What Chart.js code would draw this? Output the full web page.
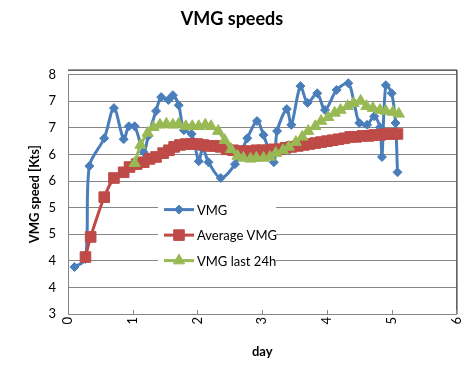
<!DOCTYPE html>
<html>
<head>
<meta charset="utf-8">
<title>VMG speeds</title>
<script src="https://cdn.jsdelivr.net/npm/chart.js@4/dist/chart.umd.min.js"></script>
<style>
    html, body { margin: 0; padding: 0; background: #fff; }
</style>
</head>
<body>
<canvas id="vmgChart" width="475" height="365"></canvas>
<script>
// VMG (raw)
const vmgDays = [0.10, 0.27, 0.33, 0.56, 0.71, 0.86, 0.94, 1.03, 1.17, 1.24, 1.36, 1.44, 1.55, 1.62, 1.71, 1.79, 1.91, 2.02, 2.08, 2.17, 2.36, 2.58, 2.77, 2.92, 3.02, 3.18, 3.23, 3.38, 3.45, 3.59, 3.70, 3.85, 3.97, 4.15, 4.33, 4.42, 4.50, 4.62, 4.73, 4.82, 4.85, 4.91, 5.00, 5.06, 5.09];
const vmgSpeed = [3.98, 4.15, 6.09, 6.67, 7.30, 6.65, 6.92, 6.92, 6.38, 6.72, 7.24, 7.53, 7.47, 7.57, 7.36, 6.84, 6.76, 6.19, 6.47, 6.17, 5.84, 6.13, 6.67, 7.03, 6.74, 6.17, 6.82, 7.28, 6.95, 7.76, 7.41, 7.61, 7.26, 7.68, 7.82, 7.41, 6.99, 6.95, 7.13, 6.90, 6.28, 7.78, 7.61, 6.99, 5.96];

// Average VMG
const avgDays = [0.27, 0.35, 0.56, 0.71, 0.86, 0.95, 1.06, 1.17, 1.26, 1.36, 1.47, 1.56, 1.64, 1.73, 1.82, 1.91, 2.00, 2.09, 2.18, 2.27, 2.36, 2.45, 2.55, 2.64, 2.73, 2.82, 2.91, 3.00, 3.09, 3.18, 3.27, 3.36, 3.45, 3.55, 3.64, 3.73, 3.82, 3.91, 4.00, 4.09, 4.18, 4.27, 4.36, 4.45, 4.55, 4.64, 4.73, 4.82, 4.91, 5.00, 5.09];
const avgSpeed = [4.19, 4.61, 5.44, 5.84, 5.96, 6.07, 6.13, 6.17, 6.24, 6.28, 6.36, 6.42, 6.49, 6.53, 6.55, 6.55, 6.55, 6.53, 6.51, 6.51, 6.49, 6.44, 6.42, 6.40, 6.40, 6.40, 6.42, 6.42, 6.42, 6.44, 6.44, 6.47, 6.49, 6.51, 6.53, 6.55, 6.57, 6.59, 6.61, 6.63, 6.65, 6.67, 6.70, 6.70, 6.72, 6.72, 6.74, 6.74, 6.76, 6.76, 6.76];

// VMG last 24h
const lastDays = [1.03, 1.12, 1.23, 1.32, 1.42, 1.52, 1.62, 1.71, 1.82, 1.92, 2.02, 2.12, 2.21, 2.32, 2.42, 2.52, 2.62, 2.71, 2.82, 2.91, 3.02, 3.12, 3.21, 3.32, 3.41, 3.52, 3.62, 3.71, 3.82, 3.91, 4.02, 4.12, 4.21, 4.32, 4.41, 4.52, 4.61, 4.71, 4.82, 4.91, 5.02, 5.11];
const lastSpeed = [6.15, 6.53, 6.78, 6.90, 6.95, 6.97, 6.95, 6.97, 6.92, 6.92, 6.92, 6.95, 6.92, 6.82, 6.63, 6.44, 6.30, 6.26, 6.24, 6.26, 6.26, 6.28, 6.36, 6.42, 6.49, 6.59, 6.70, 6.82, 6.92, 7.03, 7.11, 7.20, 7.26, 7.34, 7.40, 7.45, 7.34, 7.30, 7.26, 7.24, 7.22, 7.18];

const seriesNames = ['VMG', 'Average VMG', 'VMG last 24h'];
const seriesColors = ['#4a7ebb', '#be4b48', '#98b954'];
const seriesMarkers = ['rectRot', 'rect', 'triangle'];
const markerSizes = [4.5, 7.5, 6.5];

const yMin = 3, yMax = 8;
const yTickLabels = ['3', '4', '4', '5', '5', '6', '6', '7', '7', '8'];

const toPoints = (xs, ys) => xs.map((x, i) => ({ x: x, y: ys[i] }));

const makeSet = (i, xs, ys) => ({
    label: seriesNames[i],
    data: toPoints(xs, ys),
    showLine: true,
    borderColor: seriesColors[i],
    backgroundColor: seriesColors[i],
    borderWidth: 3,
    tension: 0.3,
    pointStyle: seriesMarkers[i],
    pointRadius: markerSizes[i],
    pointHoverRadius: markerSizes[i],
    pointBorderWidth: 1,
    order: 3 - i
});

// white legend box inside the plot, plus the Excel style frame and inside ticks
const excelBits = {
    id: 'excelBits',
    afterDraw(chart) {
        const { ctx, chartArea: a } = chart;
        const xScale = chart.scales.x;
        ctx.save();

        ctx.strokeStyle = '#000';
        ctx.lineWidth = 1;
        ctx.beginPath();
        ctx.moveTo(a.left, a.top - 4.5);
        ctx.lineTo(a.right + 0.5, a.top - 4.5);
        ctx.lineTo(a.right + 0.5, a.bottom);
        ctx.stroke();

        ctx.strokeStyle = '#868686';
        xScale.ticks.forEach(t => {
            const px = Math.round(xScale.getPixelForValue(t.value)) + 0.5;
            ctx.beginPath();
            ctx.moveTo(px, a.bottom);
            ctx.lineTo(px, a.bottom - 4);
            ctx.stroke();
        });

        const boxX = a.left + 90, boxY = a.top + 121;
        ctx.fillStyle = '#fff';
        ctx.fillRect(boxX, boxY, 118, 78);

        ctx.font = '13px Lato';
        ctx.textBaseline = 'middle';
        seriesNames.forEach((name, i) => {
            const y = boxY + 14 + i * 25.5;
            const x0 = boxX + 6;
            ctx.strokeStyle = seriesColors[i];
            ctx.lineWidth = 3;
            ctx.beginPath();
            ctx.moveTo(x0, y);
            ctx.lineTo(x0 + 30, y);
            ctx.stroke();
            ctx.fillStyle = seriesColors[i];
            ctx.lineWidth = 1;
            Chart.helpers.drawPoint(ctx, {
                pointStyle: seriesMarkers[i],
                radius: markerSizes[i],
                rotation: 0,
                borderWidth: 1
            }, x0 + 15, y);
            ctx.fillStyle = '#000';
            ctx.fillText(name, x0 + 33, y + 1);
        });
        ctx.restore();
    }
};

new Chart(document.getElementById('vmgChart'), {
    type: 'scatter',
    data: {
        datasets: [
            makeSet(0, vmgDays, vmgSpeed),
            makeSet(1, avgDays, avgSpeed),
            makeSet(2, lastDays, lastSpeed)
        ]
    },
    options: {
        responsive: false,
        animation: false,
        layout: { padding: { left: 0, right: 11, top: 0, bottom: 0 } },
        plugins: {
            legend: { display: false },
            tooltip: { enabled: false },
            title: {
                display: true,
                text: 'VMG speeds',
                color: '#000',
                font: { family: 'Lato', size: 18, weight: 'bold' },
                padding: { top: 8, bottom: 45 }
            }
        },
        scales: {
            x: {
                type: 'linear',
                min: 0,
                max: 6,
                afterFit: s => { s.height = 51; },
                ticks: {
                    stepSize: 1,
                    minRotation: 90,
                    maxRotation: 90,
                    autoSkip: false,
                    padding: 3,
                    color: '#000',
                    font: { family: 'Lato', size: 13 }
                },
                grid: { display: false, drawTicks: false },
                border: { color: '#868686' },
                title: {
                    display: true,
                    text: 'day',
                    color: '#000',
                    font: { family: 'Lato', size: 13, weight: 'bold' },
                    padding: { top: 0, bottom: 5 }
                }
            },
            y: {
                min: yMin,
                max: yMax,
                afterFit: s => { s.width = 68; },
                afterBuildTicks: axis => {
                    const n = yTickLabels.length - 1;
                    axis.ticks = yTickLabels.map((_, i) => ({ value: yMin + i * (yMax - yMin) / n }));
                },
                ticks: {
                    padding: 12,
                    color: '#000',
                    font: { family: 'Lato', size: 13 },
                    callback: (value, index) => yTickLabels[index]
                },
                grid: { color: '#868686', drawTicks: false },
                border: { color: '#868686' },
                title: {
                    display: true,
                    text: 'VMG speed [Kts]',
                    color: '#000',
                    font: { family: 'Lato', size: 13, weight: 'bold' },
                    padding: { top: 27, bottom: 0 }
                }
            }
        }
    },
    plugins: [excelBits]
});
</script>
</body>
</html>
